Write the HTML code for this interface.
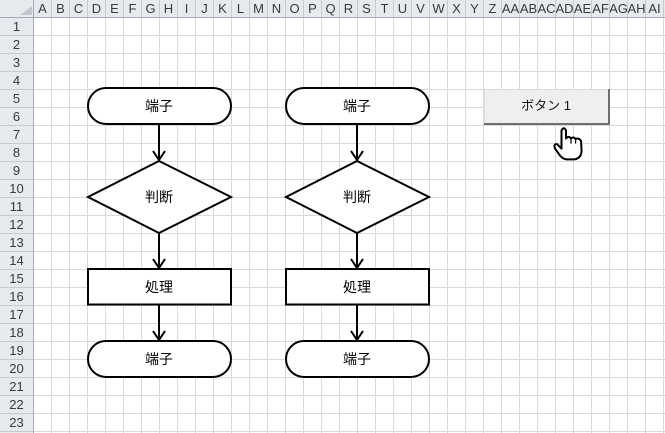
<!DOCTYPE html>
<html>
<head>
<meta charset="utf-8">
<style>
  html,body{margin:0;padding:0;background:#fff;}
  body{width:665px;height:433px;overflow:hidden;position:relative;font-family:"Liberation Sans","Noto Sans CJK JP",sans-serif;}
  svg{position:absolute;left:0;top:0;}
  .ch{position:absolute;top:0;height:17px;width:17px;overflow:hidden;display:flex;justify-content:center;align-items:center;font-size:13px;color:#3a3a3a;white-space:nowrap;}
  .rh{position:absolute;left:0;width:33px;height:17px;display:flex;justify-content:center;align-items:center;font-size:13px;color:#3a3a3a;}
  .lbl{position:absolute;font-family:"Liberation Sans","Noto Sans CJK JP",sans-serif;font-size:14px;color:#000;text-align:center;line-height:16px;}
</style>
</head>
<body>
<svg width="665" height="433" viewBox="0 0 665 433" xmlns="http://www.w3.org/2000/svg">
  <defs>
    <pattern id="grid" patternUnits="userSpaceOnUse" x="34" y="18" width="18" height="18">
      <rect x="17" y="0" width="1" height="18" fill="#d9d9d9"/>
      <rect x="0" y="17" width="18" height="1" fill="#d9d9d9"/>
    </pattern>
    <pattern id="colh" patternUnits="userSpaceOnUse" x="34" y="0" width="18" height="17">
      <rect x="17" y="0" width="1" height="17" fill="#c6cbd2"/>
    </pattern>
    <pattern id="rowh" patternUnits="userSpaceOnUse" x="0" y="18" width="33" height="18">
      <rect x="0" y="17" width="33" height="1" fill="#c6cbd2"/>
    </pattern>
  </defs>
  <!-- cell grid -->
  <rect x="34" y="18" width="631" height="415" fill="url(#grid)"/>
  <!-- headers -->
  <rect x="0" y="0" width="665" height="17" fill="#e6e9ee"/>
  <rect x="0" y="0" width="33" height="433" fill="#e6e9ee"/>
  <rect x="34" y="0" width="631" height="17" fill="url(#colh)"/>
  <rect x="0" y="18" width="33" height="415" fill="url(#rowh)"/>
  <rect x="0" y="17" width="665" height="1" fill="#a3abb5"/>
  <rect x="33" y="0" width="1" height="433" fill="#a3abb5"/>
  <polygon points="20,15 32,15 32,6" fill="#c3c7cd"/>

  <!-- left flowchart -->
  <g fill="#fff" stroke="#000" stroke-width="2">
    <rect x="88" y="88" width="143" height="36" rx="18" ry="18"/>
    <polygon points="159,161 231,197 159,233 88,197"/>
    <rect x="88" y="269" width="143" height="35.5"/>
    <rect x="88" y="341" width="143" height="36" rx="18" ry="18"/>
  </g>
  <g fill="none" stroke="#000" stroke-width="2">
    <line x1="159" y1="124" x2="159" y2="159"/>
    <polyline points="153,151 159,160 165,151"/>
    <line x1="159" y1="233" x2="159" y2="267"/>
    <polyline points="153,259 159,268 165,259"/>
    <line x1="159" y1="305" x2="159" y2="339"/>
    <polyline points="153,331 159,340 165,331"/>
  </g>

  <!-- right flowchart -->
  <g fill="#fff" stroke="#000" stroke-width="2">
    <rect x="286" y="88" width="143" height="36" rx="18" ry="18"/>
    <polygon points="357,161 429,197 357,233 286,197"/>
    <rect x="286" y="269" width="143" height="35.5"/>
    <rect x="286" y="341" width="143" height="36" rx="18" ry="18"/>
  </g>
  <g fill="none" stroke="#000" stroke-width="2">
    <line x1="357" y1="124" x2="357" y2="159"/>
    <polyline points="351,151 357,160 363,151"/>
    <line x1="357" y1="233" x2="357" y2="267"/>
    <polyline points="351,259 357,268 363,259"/>
    <line x1="357" y1="305" x2="357" y2="339"/>
    <polyline points="351,331 357,340 363,331"/>
  </g>

  <!-- button -->
  <rect x="484" y="89" width="125" height="35" fill="#efefef"/>
  <rect x="484" y="89" width="125" height="1" fill="#dcdcdc"/>
  <rect x="484" y="89" width="1" height="35" fill="#dcdcdc"/>
  <rect x="608" y="89" width="2" height="36" fill="#6e6e6e"/>
  <rect x="484" y="123" width="126" height="2" fill="#6e6e6e"/>

  <!-- hand cursor -->
  <path d="M561.5,147 L561.5,130.5 Q563.8,126 566,130.5 L566,138.5 Q568.6,135.2 571,138.5 Q573.4,136.2 575.6,139 Q579,137.4 581,141 L581.6,151 Q581,158.6 574,159.4 L566.4,159.4 Q562.8,158.8 560,155.6 L555,148.4 Q553.2,143.8 557.2,144.2 L561.5,148.6 Z" fill="#fff" stroke="#000" stroke-width="2" stroke-linejoin="round"/>
  <line x1="571" y1="138.6" x2="571" y2="143.6" stroke="#000" stroke-width="1.2"/>
  <line x1="575.6" y1="139.2" x2="575.6" y2="143.6" stroke="#000" stroke-width="1.2"/>
</svg>

<!-- column headers -->
<div class="ch" style="left:34px">A</div>
<div class="ch" style="left:52px">B</div>
<div class="ch" style="left:70px">C</div>
<div class="ch" style="left:88px">D</div>
<div class="ch" style="left:106px">E</div>
<div class="ch" style="left:124px">F</div>
<div class="ch" style="left:142px">G</div>
<div class="ch" style="left:160px">H</div>
<div class="ch" style="left:178px">I</div>
<div class="ch" style="left:196px">J</div>
<div class="ch" style="left:214px">K</div>
<div class="ch" style="left:232px">L</div>
<div class="ch" style="left:250px">M</div>
<div class="ch" style="left:268px">N</div>
<div class="ch" style="left:286px">O</div>
<div class="ch" style="left:304px">P</div>
<div class="ch" style="left:322px">Q</div>
<div class="ch" style="left:340px">R</div>
<div class="ch" style="left:358px">S</div>
<div class="ch" style="left:376px">T</div>
<div class="ch" style="left:394px">U</div>
<div class="ch" style="left:412px">V</div>
<div class="ch" style="left:430px">W</div>
<div class="ch" style="left:448px">X</div>
<div class="ch" style="left:466px">Y</div>
<div class="ch" style="left:484px">Z</div>
<div class="ch" style="left:502px">AA</div>
<div class="ch" style="left:520px">AB</div>
<div class="ch" style="left:538px">AC</div>
<div class="ch" style="left:556px">AD</div>
<div class="ch" style="left:574px">AE</div>
<div class="ch" style="left:592px">AF</div>
<div class="ch" style="left:610px">AG</div>
<div class="ch" style="left:628px">AH</div>
<div class="ch" style="left:646px">AI</div>
<div class="ch" style="left:664px">AJ</div>

<!-- row headers -->
<div class="rh" style="top:18px">1</div>
<div class="rh" style="top:36px">2</div>
<div class="rh" style="top:54px">3</div>
<div class="rh" style="top:72px">4</div>
<div class="rh" style="top:90px">5</div>
<div class="rh" style="top:108px">6</div>
<div class="rh" style="top:126px">7</div>
<div class="rh" style="top:144px">8</div>
<div class="rh" style="top:162px">9</div>
<div class="rh" style="top:180px">10</div>
<div class="rh" style="top:198px">11</div>
<div class="rh" style="top:216px">12</div>
<div class="rh" style="top:234px">13</div>
<div class="rh" style="top:252px">14</div>
<div class="rh" style="top:270px">15</div>
<div class="rh" style="top:288px">16</div>
<div class="rh" style="top:306px">17</div>
<div class="rh" style="top:324px">18</div>
<div class="rh" style="top:342px">19</div>
<div class="rh" style="top:360px">20</div>
<div class="rh" style="top:378px">21</div>
<div class="rh" style="top:396px">22</div>
<div class="rh" style="top:414px">23</div>

<!-- shape labels -->
<div class="lbl" style="left:109px;top:98px;width:100px">端子</div>
<div class="lbl" style="left:109px;top:189px;width:100px">判断</div>
<div class="lbl" style="left:109px;top:279px;width:100px">処理</div>
<div class="lbl" style="left:109px;top:351px;width:100px">端子</div>

<div class="lbl" style="left:307px;top:98px;width:100px">端子</div>
<div class="lbl" style="left:307px;top:189px;width:100px">判断</div>
<div class="lbl" style="left:307px;top:279px;width:100px">処理</div>
<div class="lbl" style="left:307px;top:351px;width:100px">端子</div>

<!-- button label -->
<div class="lbl" style="left:484px;top:98px;width:124px;font-size:13px;color:#111">ボタン 1</div>
</body>
</html>
